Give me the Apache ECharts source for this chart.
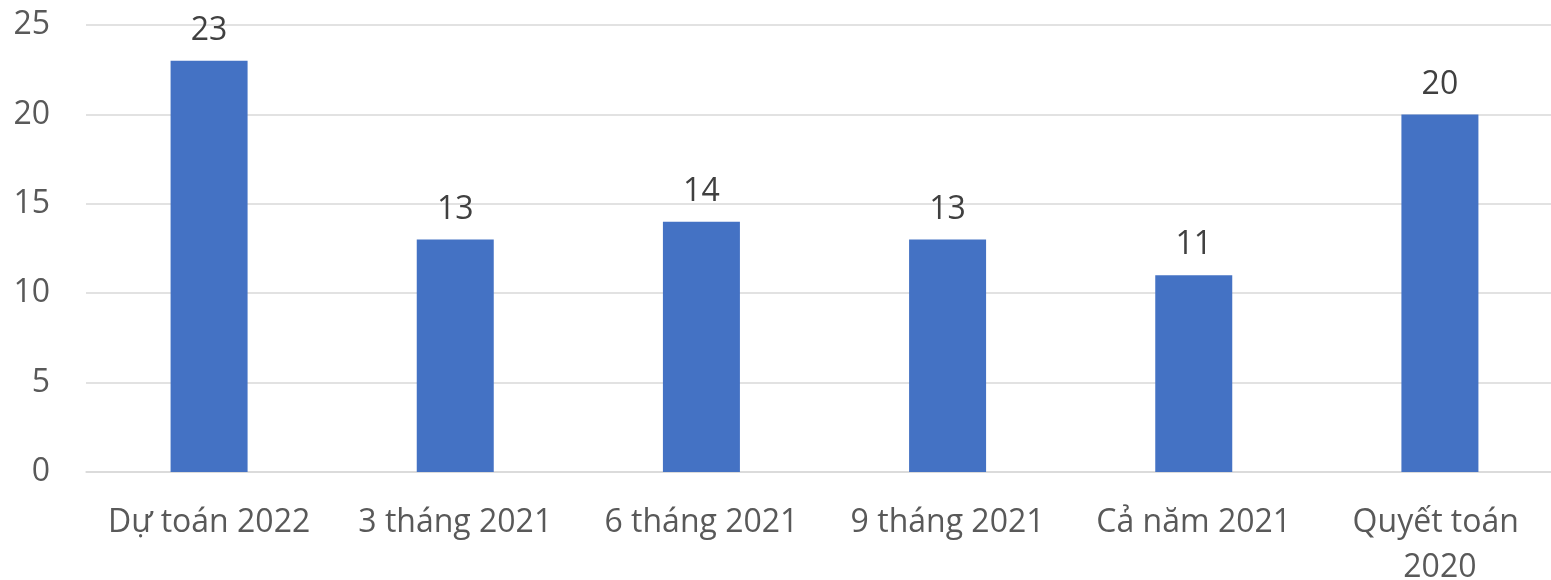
<!DOCTYPE html>
<html><head><meta charset="utf-8">
<script src="https://cdn.jsdelivr.net/npm/echarts@6/dist/echarts.min.js"></script>
<style>html,body{margin:0;padding:0;background:#fff;overflow:hidden}#c{width:1575px;height:580px}</style>
</head><body><div id="c"></div>
<script>
const categories = ["Dự toán 2022", "3 tháng 2021", "6 tháng 2021", "9 tháng 2021", "Cả năm 2021", "Quyết toán 2020"];
const values = [23, 13, 14, 13, 11, 20];
const yTicks = { min: 0, max: 25, interval: 5 };
const FONT = "'Open Sans', sans-serif";
const chart = echarts.init(document.getElementById('c'));
chart.setOption({
  animation: false,
  grid: { left: 86, top: 25, width: 1477, bottom: 108, outerBoundsMode: 'none', containLabel: false },
  xAxis: {
    type: 'category', data: categories,
    axisLine: { show: true, lineStyle: { color: '#d9d9d9', width: 1.5 } },
    axisTick: { show: false },
    axisLabel: { color: '#595959', fontFamily: FONT, fontSize: 32, margin: 28, lineHeight: 45, width: 235, overflow: 'break', interval: 0 }
  },
  yAxis: {
    type: 'value', min: yTicks.min, max: yTicks.max, interval: yTicks.interval,
    axisLine: { show: false }, axisTick: { show: false },
    splitLine: { lineStyle: { color: '#d9d9d9', width: 1.5 } },
    axisLabel: { color: '#595959', fontFamily: FONT, fontSize: 32, margin: 36 }
  },
  series: [{
    type: 'bar', data: values, barWidth: 77,
    itemStyle: { color: '#4472c4' },
    label: { show: true, position: 'top', distance: 14, color: '#404040', fontFamily: FONT, fontSize: 32 }
  }]
});
</script></body></html>
